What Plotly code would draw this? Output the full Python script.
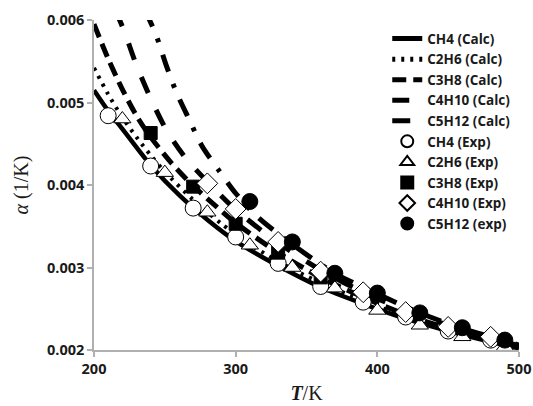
import plotly.graph_objects as go

# ---------------- data ----------------
# calculated curves (T in K, alpha in 1/K)
ch4_calc_T = [200, 210, 220, 240, 260, 280, 300, 330, 360, 390, 420, 450, 480, 500]
ch4_calc_a = [0.00515, 0.00490, 0.00468, 0.00424, 0.00388, 0.00358, 0.00332, 0.00302,
              0.00276, 0.00256, 0.00238, 0.00223, 0.00210, 0.00202]

c2h6_calc_T = [200, 210, 220, 230, 240, 250, 270, 290, 310, 340, 370, 400, 430, 460, 490, 500]
c2h6_calc_a = [0.00542, 0.00510, 0.00482, 0.00458, 0.00436, 0.00416, 0.00382, 0.00353,
               0.00328, 0.00298, 0.00274, 0.00253, 0.00235, 0.00220, 0.00207, 0.00203]

c3h8_calc_T = [200, 210, 220, 230, 240, 255, 270, 285, 300, 330, 360, 390, 420, 450, 480, 500]
c3h8_calc_a = [0.00595, 0.00553, 0.00516, 0.00484, 0.00458, 0.00426, 0.00399, 0.00376,
               0.00354, 0.00318, 0.00288, 0.00264, 0.00243, 0.00226, 0.00212, 0.00204]

c4h10_calc_T = [215, 221, 230, 240, 251, 265, 280, 300, 330, 360, 390, 420, 450, 480, 500]
c4h10_calc_a = [0.00612, 0.00588, 0.00545, 0.00505, 0.00467, 0.00432, 0.00404, 0.00370,
                0.00330, 0.00297, 0.00270, 0.00248, 0.00230, 0.00215, 0.00205]

c5h12_calc_T = [236, 244, 251, 258, 267, 276, 288, 300, 315, 340, 370, 400, 430, 460, 490, 500]
c5h12_calc_a = [0.00612, 0.00581, 0.00545, 0.00513, 0.00480, 0.00448, 0.00418, 0.00390,
                0.00362, 0.00328, 0.00293, 0.00268, 0.00245, 0.00226, 0.00211, 0.00206]

# experimental points
ch4_exp_T = [210, 240, 270, 300, 330, 360, 390, 420, 450, 480]
ch4_exp_a = [0.00484, 0.00423, 0.00372, 0.00337, 0.00305, 0.00277, 0.00258, 0.00240, 0.00223, 0.00212]

c2h6_exp_T = [220, 250, 280, 310, 340, 370, 400, 430, 460, 490]
c2h6_exp_a = [0.00480, 0.00415, 0.00367, 0.00327, 0.00300, 0.00275, 0.00248, 0.00230, 0.00216, 0.00204]

c3h8_exp_T = [240, 270, 300, 330, 360]
c3h8_exp_a = [0.00463, 0.00398, 0.00353, 0.00318, 0.00288]

c4h10_exp_T = [280, 300, 330, 360, 390, 420, 450, 480]
c4h10_exp_a = [0.00402, 0.00371, 0.00331, 0.00295, 0.00270, 0.00246, 0.00228, 0.00216]

c5h12_exp_T = [310, 340, 370, 400, 430, 460, 490]
c5h12_exp_a = [0.00380, 0.00331, 0.00293, 0.00269, 0.00245, 0.00227, 0.00212]

x_ticks = [200, 300, 400, 500]
y_ticks = [0.002, 0.003, 0.004, 0.005, 0.006]

# ---------------- figure ----------------
fig = go.Figure()

calc = [
    ("CH4 (Calc)", ch4_calc_T, ch4_calc_a, "solid", 4.5),
    ("C2H6 (Calc)", c2h6_calc_T, c2h6_calc_a, "3px,6px", 4),
    ("C3H8 (Calc)", c3h8_calc_T, c3h8_calc_a, "14px,7px", 5),
    ("C4H10 (Calc)", c4h10_calc_T, c4h10_calc_a, "17px,19px", 5),
    ("C5H12 (Calc)", c5h12_calc_T, c5h12_calc_a, "18px,13px,4px,13px", 5),
]
for name, T, a, dash, w in calc:
    fig.add_trace(go.Scatter(x=T, y=a, mode="lines", name=name,
                             line=dict(color="black", width=w, dash=dash, shape="spline", smoothing=0.8)))

exp = [
    ("CH4 (Exp)", ch4_exp_T, ch4_exp_a, "circle", "white", 16),
    ("C2H6 (Exp)", c2h6_exp_T, c2h6_exp_a, "triangle-up", "white", 15),
    ("C3H8 (Exp)", c3h8_exp_T, c3h8_exp_a, "square", "black", 13),
    ("C4H10 (Exp)", c4h10_exp_T, c4h10_exp_a, "diamond", "white", 16),
    ("C5H12 (exp)", c5h12_exp_T, c5h12_exp_a, "circle", "black", 16),
]
for name, T, a, sym, fill, sz in exp:
    fig.add_trace(go.Scatter(x=T, y=a, mode="markers", name=name,
                             marker=dict(symbol=sym, color=fill, size=sz,
                                         line=dict(color="black", width=1))))

axis_common = dict(showline=True, linecolor="#b0b0b0", linewidth=1.5, ticks="outside",
                   tickcolor="#b0b0b0", ticklen=5, tickwidth=1.5, showgrid=False, zeroline=False,
                   automargin=False,
                   tickfont=dict(family="Open Sans", size=14.5, color="#1a1a1a", weight="bold"))

fig.update_xaxes(range=[200, 500], tickvals=x_ticks, ticktext=[str(v) for v in x_ticks],
                 title=dict(text="<b><i>T</i></b>/K", font=dict(family="Liberation Serif", size=20, color="#1a1a1a"),
                            standoff=9),
                 **axis_common)
fig.update_yaxes(range=[0.002, 0.006], tickvals=y_ticks, ticktext=[f"{v:.3f}" for v in y_ticks],
                 title=dict(text="<i>α</i> (1/K)", font=dict(family="Liberation Serif", size=20, color="#1a1a1a"),
                            standoff=13),
                 **axis_common)

fig.update_layout(
    width=533, height=406,
    margin=dict(l=94, r=14, t=20, b=56),
    plot_bgcolor="white", paper_bgcolor="white",
    legend=dict(x=0.69, y=0.99, xanchor="left", yanchor="top",
                font=dict(family="Open Sans", size=13.5, color="#1a1a1a", weight="bold"),
                bgcolor="rgba(0,0,0,0)", itemsizing="constant", tracegroupgap=0),
)

fig.write_html("out.html")
